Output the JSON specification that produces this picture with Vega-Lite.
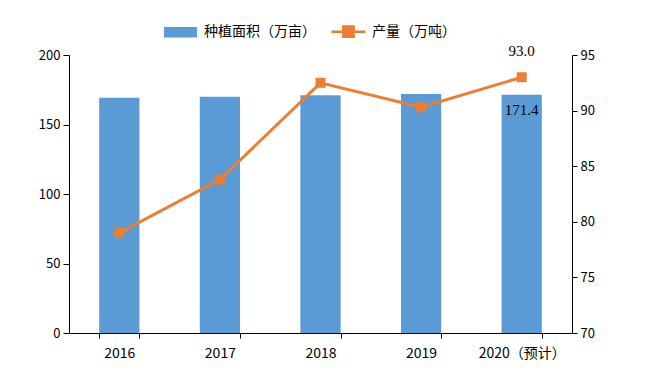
{
  "$schema": "https://vega.github.io/schema/vega-lite/v6.json",
  "width": 503,
  "height": 278,
  "autosize": "none",
  "padding": {"left": 69, "top": 55, "right": 77, "bottom": 38},
  "background": "white",
  "config": {
    "view": {"stroke": null},
    "font": "Noto Sans CJK SC",
    "axis": {"grid": false, "domainColor": "#000000", "tickColor": "#000000", "labelColor": "#000000", "labelFont": "Noto Sans CJK SC", "titleFont": "Noto Sans CJK SC"}
  },
  "data": {
    "values": [
      {"year": "2016", "area": 169.2, "output": 79.0, "series_a": "种植面积（万亩）", "series_b": "产量（万吨）"},
      {"year": "2017", "area": 169.9, "output": 83.8, "series_a": "种植面积（万亩）", "series_b": "产量（万吨）"},
      {"year": "2018", "area": 171.0, "output": 92.5, "series_a": "种植面积（万亩）", "series_b": "产量（万吨）"},
      {"year": "2019", "area": 172.0, "output": 90.3, "series_a": "种植面积（万亩）", "series_b": "产量（万吨）"},
      {"year": "2020（预计）", "area": 171.4, "output": 93.0, "series_a": "种植面积（万亩）", "series_b": "产量（万吨）", "label_area": "171.4", "label_output": "93.0"}
    ]
  },
  "encoding": {
    "x": {
      "field": "year", "type": "nominal", "sort": null,
      "scale": {"paddingInner": 0.6, "paddingOuter": 0.3},
      "axis": {"title": null, "labelAngle": 0, "labelFontSize": 14, "labelPadding": 8, "tickBand": "extent", "tickSize": 5, "domainWidth": 1}
    }
  },
  "layer": [
    {
      "layer": [
        {
          "mark": {"type": "bar"},
          "encoding": {
            "y": {"field": "area", "type": "quantitative", "scale": {"domain": [0, 200]}, "axis": {"title": null, "values": [0, 50, 100, 150, 200], "labelFontSize": 13, "tickSize": 6, "labelPadding": 3}},
            "color": {
              "field": "series_a", "type": "nominal",
              "scale": {"domain": ["种植面积（万亩）", "产量（万吨）"], "range": ["#5B9BD5", "#ED7D31"]},
              "legend": {
                "title": null, "orient": "none", "direction": "horizontal", "legendX": 93, "legendY": -42,
                "labelFontSize": 14, "labelFont": "Noto Sans CJK SC", "labelColor": "#000000", "labelOffset": 5,
                "symbolSize": 1156, "columnPadding": 10,
                "encode": {
                  "symbols": {
                    "update": {
                      "shape": {"signal": "datum.value === '产量（万吨）' ? 'M-1,0H1M-0.3,-0.3H0.3V0.3H-0.3Z' : 'M-0.9,-0.24H0.9V0.24H-0.9Z'"},
                      "fill": {"scale": "color", "field": "value"},
                      "stroke": {"scale": "color", "field": "value"},
                      "strokeWidth": {"value": 2.5},
                      "fillOpacity": {"value": 1},
                      "opacity": {"value": 1}
                    }
                  }
                }
              }
            }
          }
        },
        {
          "transform": [{"filter": "isValid(datum.label_area)"}],
          "mark": {"type": "text", "font": "Liberation Serif", "fontSize": 15, "dy": 15, "color": "#000000"},
          "encoding": {
            "y": {"field": "area", "type": "quantitative", "scale": {"domain": [0, 200]}},
            "text": {"field": "label_area"}
          }
        }
      ]
    },
    {
      "layer": [
        {
          "mark": {"type": "line", "strokeWidth": 3, "point": {"shape": "square", "size": 100, "filled": true, "color": "#ED7D31"}},
          "encoding": {
            "y": {"field": "output", "type": "quantitative", "scale": {"domain": [70, 95]}, "axis": {"title": null, "orient": "right", "values": [70, 75, 80, 85, 90, 95], "labelFontSize": 13, "tickSize": 5, "labelPadding": 3}},
            "color": {"field": "series_b", "type": "nominal"}
          }
        },
        {
          "transform": [{"filter": "isValid(datum.label_output)"}],
          "mark": {"type": "text", "font": "Liberation Serif", "fontSize": 15, "dy": -26, "color": "#000000"},
          "encoding": {
            "y": {"field": "output", "type": "quantitative", "scale": {"domain": [70, 95]}},
            "text": {"field": "label_output"}
          }
        }
      ],
      "resolve": {"scale": {"y": "shared"}}
    }
  ],
  "resolve": {"scale": {"y": "independent"}}
}
